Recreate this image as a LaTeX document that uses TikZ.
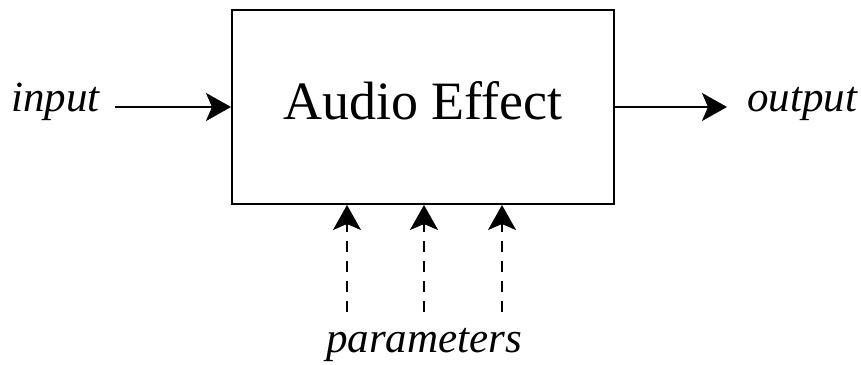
\documentclass[tikz,border=0pt]{standalone}
\usepackage{fontspec}
\setmainfont{Liberation Serif}
\usetikzlibrary{arrows.meta, positioning}

\tikzset{
  effectbox/.style={draw, line width=2pt, minimum width=382pt, minimum height=194pt,
    inner sep=0pt, text depth=14pt, font=\fontsize{54}{60}\selectfont},
  sigtext/.style={inner sep=0pt, font=\fontsize{43}{48}\selectfont\itshape},
  flow/.style={line width=2pt, -{Stealth[length=25pt, width=28pt, inset=6pt]}},
  param/.style={flow, dash pattern=on 11pt off 9pt}
}

\begin{document}
\begin{tikzpicture}[x=1pt, y=1pt]
\useasboundingbox (0,0) rectangle (861,364);
% block
\node[effectbox] (box) at (423,257) {Audio Effect};
% signal in and out
\node[sigtext, anchor=base east] (input) at (100,252) {input};
\node[sigtext, anchor=base west] (output) at (747,252) {output};
\draw[flow] (box.west -| input.east) ++(15,0) -- (box.west);
\draw[flow] (box.east) -- ++(112,0);
% control inputs
\node[sigtext, anchor=base] (params) at (424,12) {parameters};
\foreach \x [count=\i] in {347,424,502} {
  \coordinate (par\i) at (\x,52);
  \draw[param] (par\i) -- (par\i |- box.south);
}
\end{tikzpicture}
\end{document}
